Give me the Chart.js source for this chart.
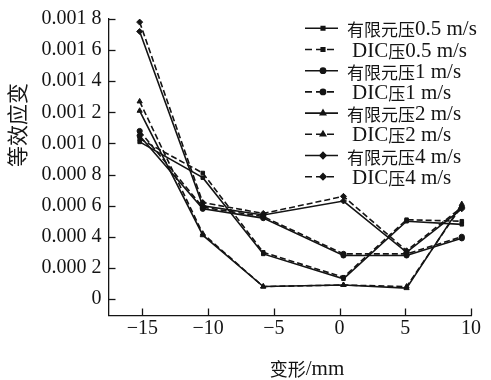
<!DOCTYPE html>
<html>
<head>
<meta charset="utf-8">
<script src="https://cdn.jsdelivr.net/npm/chart.js@4.4.1/dist/chart.umd.min.js"></script>
<style>
html,body{margin:0;padding:0;background:#fff;}
#c{display:block;}
</style>
</head>
<body>
<canvas id="c" width="491" height="380"></canvas>
<script>
// ---- data ----
const xValues = [-15.2, -10.4, -5.8, 0.3, 5.1, 9.3];
const seriesLabels = ['有限元压0.5 m/s', 'DIC压0.5 m/s', '有限元压1 m/s', 'DIC压1 m/s',
                      '有限元压2 m/s', 'DIC压2 m/s', '有限元压4 m/s', 'DIC压4 m/s'];
const fem05 = [0.00101, 0.00078, 0.00029, 0.00013, 0.00050, 0.00048];
const dic05 = [0.00103, 0.00081, 0.00030, 0.00014, 0.00051, 0.00050];
const fem1  = [0.00105, 0.00058, 0.00052, 0.00028, 0.00028, 0.00039];
const dic1  = [0.00108, 0.00059, 0.00053, 0.00029, 0.00029, 0.00040];
const fem2  = [0.00121, 0.00041, 0.00008, 0.00009, 0.00007, 0.00061];
const dic2  = [0.00127, 0.00042, 0.00008, 0.00009, 0.00008, 0.00060];
const fem4  = [0.00172, 0.00060, 0.00054, 0.00063, 0.00030, 0.00058];
const dic4  = [0.00178, 0.00062, 0.00055, 0.00066, 0.00031, 0.00059];
const xTicks = [-15, -10, -5, 0, 5, 10];
const xTickLabels = ['\u221215', '\u221210', '\u22125', '0', '5', '10'];
const yTicks = [0, 0.0002, 0.0004, 0.0006, 0.0008, 0.0010, 0.0012, 0.0014, 0.0016, 0.0018];
const yTickLabels = ['0', '0.000 2', '0.000 4', '0.000 6', '0.000 8', '0.001 0', '0.001 2', '0.001 4', '0.001 6', '0.001 8'];
const xTitle = '变形/mm';
const yTitle = '等效应变';

// ---- styling ----
const INK = '#141414';
const LATIN = "'Liberation Serif', 'Times New Roman', serif";
const CJK = "'Noto Sans CJK SC', sans-serif";
const seriesValues = [fem05, dic05, fem1, dic1, fem2, dic2, fem4, dic4];
const markerStyles = ['rect', 'rect', 'circle', 'circle', 'triangle', 'triangle', 'rectRot', 'rectRot'];
const markerRadius = [2.5, 2.5, 2.6, 2.6, 3, 3, 3, 3];

const datasets = seriesValues.map((vals, i) => ({
  label: seriesLabels[i],
  data: vals.map((v, j) => ({x: xValues[j], y: v})),
  borderColor: INK,
  backgroundColor: INK,
  borderWidth: 1.6,
  borderDash: i % 2 === 1 ? [6, 3] : [],
  pointStyle: markerStyles[i],
  pointRadius: markerRadius[i],
  pointBorderWidth: 1,
  pointBackgroundColor: INK,
  pointBorderColor: INK,
  tension: 0,
  fill: false
}));

function isCJK(ch) { return /[\u3000-\u9fff\uff00-\uffef]/.test(ch); }
function drawMixed(ctx, text, x, y, latinPx, cjkPx, align) {
  const runs = [];
  for (const ch of text) {
    const c = isCJK(ch);
    if (runs.length && runs[runs.length - 1].c === c) runs[runs.length - 1].t += ch;
    else runs.push({c, t: ch});
  }
  let total = 0;
  runs.forEach(r => {
    ctx.font = r.c ? (cjkPx + 'px ' + CJK) : (latinPx + 'px ' + LATIN);
    r.w = ctx.measureText(r.t).width; total += r.w;
  });
  let cx = align === 'center' ? x - total / 2 : x;
  ctx.textAlign = 'left';
  ctx.textBaseline = 'alphabetic';
  runs.forEach(r => {
    ctx.font = r.c ? (cjkPx + 'px ' + CJK) : (latinPx + 'px ' + LATIN);
    ctx.fillText(r.t, cx, y + (r.c ? 1 : 0));
    cx += r.w;
  });
}

const decor = {
  id: 'decor',
  afterDraw(chart) {
    const ctx = chart.ctx;
    const xs = chart.scales.x, ys = chart.scales.y;
    const ca = chart.chartArea;
    ctx.save();
    ctx.strokeStyle = INK; ctx.lineWidth = 1.3; ctx.setLineDash([]);
    // inward tick marks
    yTicks.forEach(v => {
      const py = Math.round(ys.getPixelForValue(v)) + 0.5;
      ctx.beginPath(); ctx.moveTo(ca.left, py); ctx.lineTo(ca.left + 7, py); ctx.stroke();
    });
    xTicks.forEach(v => {
      const px = Math.round(xs.getPixelForValue(v)) + 0.5;
      ctx.beginPath(); ctx.moveTo(px, ca.bottom); ctx.lineTo(px, ca.bottom - 7); ctx.stroke();
    });
    ctx.fillStyle = INK;
    // axis titles
    drawMixed(ctx, xTitle, 307, 375, 21, 18, 'center');
    ctx.save();
    ctx.translate(24, 125);
    ctx.rotate(-Math.PI / 2);
    drawMixed(ctx, yTitle, 0, 0, 21, 21, 'center');
    ctx.restore();
    // legend
    const rowY0 = 28.3, rowStep = 21.2;
    chart.data.datasets.forEach((ds, i) => {
      const cy = rowY0 + i * rowStep;
      ctx.save();
      ctx.strokeStyle = INK; ctx.lineWidth = 1.6;
      ctx.setLineDash(ds.borderDash.length ? [7, 4] : []);
      ctx.beginPath(); ctx.moveTo(305, cy); ctx.lineTo(338, cy); ctx.stroke();
      ctx.setLineDash([]);
      Chart.helpers.drawPoint(ctx, {pointStyle: ds.pointStyle, radius: ds.pointRadius, borderWidth: 1, rotation: 0}, 323, cy);
      ctx.restore();
      ctx.fillStyle = INK;
      const tx = isCJK(ds.label[0]) ? 347 : 352;
      drawMixed(ctx, ds.label, tx, cy + 7, 21, 17, 'left');
    });
    ctx.restore();
  }
};

new Chart(document.getElementById('c'), {
  type: 'line',
  data: {datasets},
  options: {
    responsive: false,
    animation: false,
    devicePixelRatio: 1,
    layout: {padding: {left: 0, right: 20, top: 13, bottom: 0}},
    plugins: {legend: {display: false}, tooltip: {enabled: false}},
    scales: {
      x: {
        type: 'linear',
        min: -17.57, max: 10,
        afterBuildTicks: s => { s.ticks = xTicks.map(v => ({value: v})); },
        afterFit: s => { s.height = 64.5; },
        grid: {display: false, drawTicks: false, tickLength: 0},
        border: {display: true, color: INK, width: 1.3},
        ticks: {
          autoSkip: false, maxRotation: 0, padding: 1, color: INK,
          font: {family: LATIN, size: 20},
          callback: (v) => { const k = xTicks.indexOf(v); return k >= 0 ? xTickLabels[k] : ''; }
        }
      },
      y: {
        type: 'linear',
        min: -0.000106, max: 0.0018,
        afterBuildTicks: s => { s.ticks = yTicks.map(v => ({value: v})); },
        afterFit: s => { s.width = 108.5; },
        grid: {display: false, drawTicks: false, tickLength: 0},
        border: {display: true, color: INK, width: 1.3},
        ticks: {
          autoSkip: false, padding: 7, color: INK,
          font: {family: LATIN, size: 20},
          callback: (v) => { const k = yTicks.findIndex(t => Math.abs(t - v) < 1e-9); return k >= 0 ? yTickLabels[k] : ''; }
        }
      }
    }
  },
  plugins: [decor]
});
</script>
</body>
</html>
